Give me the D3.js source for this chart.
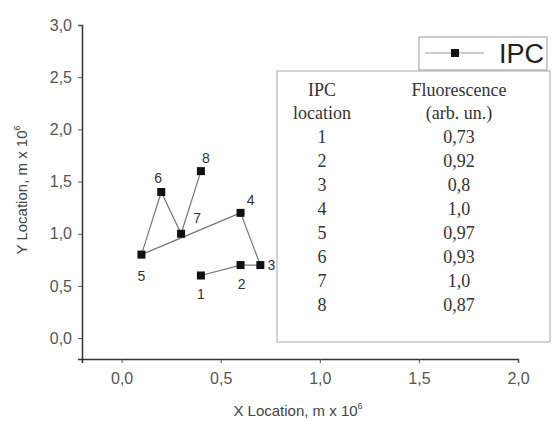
<!DOCTYPE html>
<html lang="en">
<head>
<meta charset="UTF-8">
<script src="https://d3js.org/d3.v7.min.js"></script>
<style>
  body { margin: 0; background: #fff; }
  svg { display: block; }
</style>
</head>
<body>
<div id="plot"></div>
<script>
  // IPC positions (in units of 10^6 m), in visiting order
  const ipcIds = [1, 2, 3, 4, 5, 6, 7, 8];
  const xLoc = [0.4, 0.6, 0.7, 0.6, 0.1, 0.2, 0.3, 0.4];
  const yLoc = [0.6, 0.7, 0.7, 1.2, 0.8, 1.4, 1.0, 1.6];
  const fluorescence = ["0,73", "0,92", "0,8", "1,0", "0,97", "0,93", "1,0", "0,87"];
  const xTicks = [0, 0.5, 1.0, 1.5, 2.0];
  const yTicks = [0, 0.5, 1.0, 1.5, 2.0, 2.5, 3.0];

  // label offsets for the point numbers
  const labelDx = [0, 1, 11, 10, 0, -3, 16, 5];
  const labelDy = [23, 24, 5, -8, 26, -9, -11, -8];

  const width = 553, height = 421;

  const fmt = d3.formatLocale({decimal: ",", thousands: ".", grouping: [3], currency: ["", ""]}).format(".1f");

  const x = d3.scaleLinear().domain([-0.2, 2.0]).range([82, 518]);
  const y = d3.scaleLinear().domain([-0.2, 3.0]).range([359, 25]);

  const svg = d3.select('#plot').append('svg')
      .attr('width', width)
      .attr('height', height);

  // axes
  const xAxis = svg.append('g')
      .attr('transform', `translate(0, ${y(-0.2)})`)
      .call(d3.axisBottom(x).tickValues(xTicks).tickFormat(fmt).tickSize(4).tickPadding(10));
  const yAxis = svg.append('g')
      .attr('transform', `translate(${x(-0.2)}, 0)`)
      .call(d3.axisLeft(y).tickValues(yTicks).tickFormat(fmt).tickSize(4).tickPadding(6));

  [xAxis, yAxis].forEach(a => {
    a.select('.domain').attr('stroke', '#333').attr('stroke-width', 1.5);
    a.selectAll('.tick line').attr('stroke', '#555');
    a.selectAll('.tick text')
        .attr('fill', '#555')
        .style('font-family', 'Liberation Sans, Arial, sans-serif')
        .style('font-size', '16px');
  });

  // axis titles
  const xt = svg.append('text')
      .attr('x', 298).attr('y', 416)
      .attr('text-anchor', 'middle')
      .attr('fill', '#444')
      .style('font-family', 'Liberation Sans, Arial, sans-serif')
      .style('font-size', '15px')
      .text('X Location, m x 10');
  xt.append('tspan').attr('dy', -7).style('font-size', '9px').text('6');

  const yt = svg.append('text')
      .attr('transform', 'translate(27, 190) rotate(-90)')
      .attr('text-anchor', 'middle')
      .attr('fill', '#444')
      .style('font-family', 'Liberation Sans, Arial, sans-serif')
      .style('font-size', '15px')
      .text('Y Location, m x 10');
  yt.append('tspan').attr('dy', -7).style('font-size', '9px').text('6');

  // the path
  const line = d3.line()
      .x((d, i) => x(xLoc[i]))
      .y((d, i) => y(yLoc[i]));

  svg.append('path')
      .datum(ipcIds)
      .attr('d', line)
      .attr('fill', 'none')
      .attr('stroke', '#777')
      .attr('stroke-width', 1.2);

  const sq = 8;
  svg.selectAll('rect.pt')
    .data(ipcIds)
    .join('rect')
      .attr('class', 'pt')
      .attr('x', (d, i) => x(xLoc[i]) - sq / 2)
      .attr('y', (d, i) => y(yLoc[i]) - sq / 2)
      .attr('width', sq)
      .attr('height', sq)
      .attr('fill', '#111');

  svg.selectAll('text.pl')
    .data(ipcIds)
    .join('text')
      .attr('class', 'pl')
      .attr('x', (d, i) => x(xLoc[i]) + labelDx[i])
      .attr('y', (d, i) => y(yLoc[i]) + labelDy[i])
      .attr('text-anchor', 'middle')
      .attr('fill', '#333')
      .style('font-family', 'Liberation Sans, Arial, sans-serif')
      .style('font-size', '14px')
      .text(d => d);

  // legend
  const leg = svg.append('g');
  leg.append('rect')
      .attr('x', 419).attr('y', 37).attr('width', 128).attr('height', 33)
      .attr('fill', '#fff').attr('stroke', '#999');
  leg.append('line')
      .attr('x1', 425).attr('x2', 484).attr('y1', 53).attr('y2', 53)
      .attr('stroke', '#999');
  leg.append('rect')
      .attr('x', 451).attr('y', 49).attr('width', sq).attr('height', sq)
      .attr('fill', '#111');
  leg.append('text')
      .attr('x', 499).attr('y', 63)
      .attr('fill', '#222')
      .style('font-family', 'Liberation Sans, Arial, sans-serif')
      .style('font-size', '27px')
      .text('IPC');

  // table of fluorescence values
  const tab = svg.append('g');
  tab.append('rect')
      .attr('x', 277).attr('y', 71).attr('width', 273).attr('height', 271)
      .attr('fill', '#fff').attr('stroke', '#aaa');

  const tstyle = s => s.attr('fill', '#333')
      .attr('text-anchor', 'middle')
      .style('font-family', 'Liberation Serif, Times New Roman, serif')
      .style('font-size', '18px');

  const c1 = 322, c2 = 459;
  tab.append('text').attr('x', c1).attr('y', 96).call(tstyle).text('IPC');
  tab.append('text').attr('x', c1).attr('y', 119).call(tstyle).text('location');
  tab.append('text').attr('x', c2).attr('y', 96).call(tstyle).text('Fluorescence');
  tab.append('text').attr('x', c2).attr('y', 119).call(tstyle).text('(arb. un.)');

  tab.selectAll('text.id')
    .data(ipcIds)
    .join('text')
      .attr('class', 'id')
      .attr('x', c1)
      .attr('y', (d, i) => 143 + i * 24)
      .call(tstyle)
      .text(d => d);

  tab.selectAll('text.fl')
    .data(fluorescence)
    .join('text')
      .attr('class', 'fl')
      .attr('x', c2)
      .attr('y', (d, i) => 143 + i * 24)
      .call(tstyle)
      .text(d => d);
</script>
</body>
</html>
